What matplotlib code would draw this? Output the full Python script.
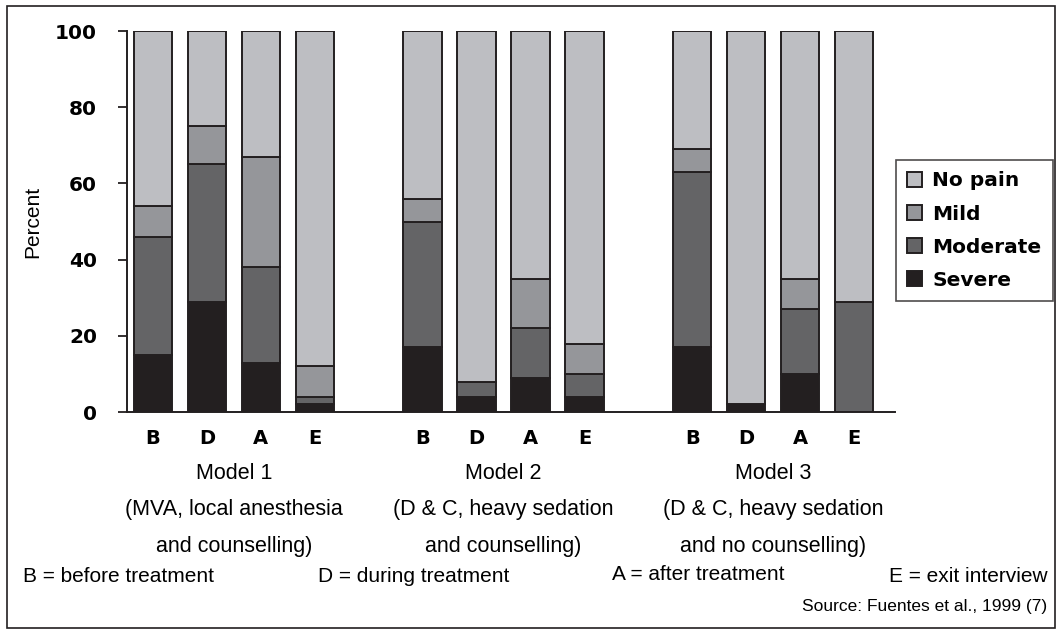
import matplotlib
matplotlib.use('Agg')
import matplotlib.pyplot as plt
import numpy as np
from matplotlib.patches import Rectangle

# pain levels reported at each stage, percent of patients
models = ['Model 1\n(MVA, local anesthesia\nand counselling)',
          'Model 2\n(D & C, heavy sedation\nand counselling)',
          'Model 3\n(D & C, heavy sedation\nand no counselling)']
stages = ['B', 'D', 'A', 'E']

severe   = [15, 29, 13, 2,   17, 4, 9, 4,    17, 2, 10, 0]
moderate = [31, 36, 25, 2,   33, 4, 13, 6,   46, 0, 17, 29]
mild     = [8, 10, 29, 8,    6, 0, 13, 8,    6, 0, 8, 0]
no_pain  = [46, 25, 33, 88,  44, 92, 65, 82, 31, 98, 65, 71]

stage_notes = ['B = before treatment', 'D = during treatment',
               'A = after treatment', 'E = exit interview']
source = 'Source: Fuentes et al., 1999 (7)'

colors = {'Severe': '#231f20', 'Moderate': '#646466', 'Mild': '#95969a', 'No pain': '#bdbec2'}
edge = '#231f20'

plt.rcParams['font.family'] = ['Liberation Sans', 'DejaVu Sans']

fig = plt.figure(figsize=(10.63, 6.34), dpi=100)
ax = fig.add_axes([0.1195, 0.350, 0.7225, 0.601])

# 4 bars per model, one empty slot between models
x = np.array([g * 5 + i for g in range(len(models)) for i in range(len(stages))])
width = 0.71

bottom = np.zeros(len(x))
series = [('Severe', severe), ('Moderate', moderate), ('Mild', mild), ('No pain', no_pain)]
handles = {}
for name, vals in series:
    vals = np.array(vals, dtype=float)
    b = ax.bar(x, vals, width, bottom=bottom, color=colors[name],
               edgecolor=edge, linewidth=1.4, label=name)
    handles[name] = b
    bottom += vals

ax.set_xlim(-0.48, 13.76)
ax.set_ylim(0, 100)
ax.set_yticks([0, 20, 40, 60, 80, 100])
ax.set_yticklabels(['0', '20', '40', '60', '80', '100'], family='DejaVu Sans',
                   fontweight='bold', fontsize=14.5)
ax.tick_params(axis='y', direction='out', length=6.5, width=1.3, color=edge, pad=15)
ax.set_xticks(x)
ax.set_xticklabels(stages * len(models), family='DejaVu Sans', fontweight='bold', fontsize=14)
ax.tick_params(axis='x', length=0, pad=12)
for s in ['top', 'right']:
    ax.spines[s].set_visible(False)
for s in ['left', 'bottom']:
    ax.spines[s].set_linewidth(1.4)
    ax.spines[s].set_color(edge)
ax.set_ylabel('Percent', fontsize=15)
ax.yaxis.set_label_coords(-0.111, 0.5)

# model captions under each group
for g, txt in enumerate(models):
    xc = g * 5 + 1.5
    ax.text(xc, -13.3, txt, ha='center', va='top', fontsize=15.5, linespacing=1.98,
            transform=ax.transData)

order = ['No pain', 'Mild', 'Moderate', 'Severe']
leg = fig.legend([handles[k] for k in order], order, loc='upper left',
                 bbox_to_anchor=(0.843, 0.747), frameon=True, fancybox=False,
                 prop={'family': 'DejaVu Sans', 'weight': 'bold', 'size': 14.5},
                 handlelength=0.75, handleheight=0.75, handletextpad=0.5,
                 labelspacing=0.7, borderpad=0.55, borderaxespad=0)
leg.get_frame().set_edgecolor(edge)
leg.get_frame().set_linewidth(1.2)

# abbreviation notes and source
fig.text(23 / 1063, 1 - 577 / 634, stage_notes[0], ha='left', va='center', fontsize=15)
fig.text(318 / 1063, 1 - 577 / 634, stage_notes[1], ha='left', va='center', fontsize=15)
fig.text(612 / 1063, 1 - 575 / 634, stage_notes[2], ha='left', va='center', fontsize=15)
fig.text(1048 / 1063, 1 - 577 / 634, stage_notes[3], ha='right', va='center', fontsize=15)
fig.text(1047 / 1063, 1 - 606 / 634, source, ha='right', va='center', fontsize=12.5)

# outer frame
fig.patches.append(Rectangle((7 / 1063, 1 - 628 / 634), 1048 / 1063, 622 / 634,
                             transform=fig.transFigure, fill=False,
                             edgecolor=edge, linewidth=1.2))

fig.savefig('out.png', dpi=100)
